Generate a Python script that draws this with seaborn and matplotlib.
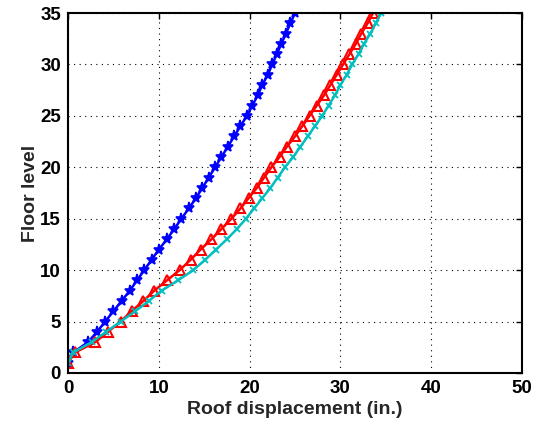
import matplotlib
matplotlib.use("Agg")
import matplotlib.pyplot as plt
import seaborn as sns
import pandas as pd

floors = list(range(1, 36))
disp_blue = [0.0, 0.6, 2.2, 3.2, 4.1, 5.0, 5.9, 6.8, 7.6, 8.4,
             9.2, 10.0, 10.9, 11.7, 12.5, 13.3, 14.1, 14.8, 15.5, 16.2,
             16.9, 17.6, 18.3, 19.0, 19.7, 20.3, 20.9, 21.4, 22.0, 22.5,
             23.0, 23.5, 24.0, 24.5, 25.0]
disp_red = [0.0, 0.8, 3.0, 4.4, 5.8, 7.0, 8.3, 9.5, 10.9, 12.3,
            13.5, 14.6, 15.8, 16.9, 18.0, 19.0, 19.9, 20.8, 21.6, 22.4,
            23.3, 24.1, 25.0, 25.8, 26.6, 27.4, 28.2, 28.9, 29.6, 30.3,
            31.0, 31.7, 32.3, 33.0, 33.6]
disp_cyan = [0.0, 0.6, 2.6, 4.2, 5.8, 7.4, 8.9, 10.3, 12.1, 13.8,
             15.1, 16.3, 17.5, 18.6, 19.6, 20.5, 21.4, 22.3, 23.1, 23.9,
             24.8, 25.6, 26.4, 27.2, 28.0, 28.7, 29.4, 30.0, 30.7, 31.3,
             32.0, 32.6, 33.3, 33.9, 34.5]
x_ticks = [0, 10, 20, 30, 40, 50]
y_ticks = [0, 5, 10, 15, 20, 25, 30, 35]

sns.set_style("white")
plt.rcParams['font.family'] = ['Liberation Sans', 'DejaVu Sans']
plt.rcParams['font.weight'] = 'bold'

fig = plt.figure(figsize=(5.37, 4.25), dpi=100)
ax = fig.add_axes([0.1266, 0.1224, 0.8454, 0.847])

df_b = pd.DataFrame({"disp": disp_blue, "floor": floors})
df_r = pd.DataFrame({"disp": disp_red, "floor": floors})
df_c = pd.DataFrame({"disp": disp_cyan, "floor": floors})

sns.lineplot(data=df_b, x="disp", y="floor", sort=False, estimator=None, ax=ax,
             color="#0000ff", marker="*", markersize=8, markeredgewidth=1.2,
             markeredgecolor="#0000ff", linewidth=1.8)
sns.lineplot(data=df_r, x="disp", y="floor", sort=False, estimator=None, ax=ax,
             color="#ff0000", marker="^", markersize=7, markerfacecolor="none",
             markeredgewidth=1.5, markeredgecolor="#ff0000", linewidth=1.8)
sns.lineplot(data=df_c, x="disp", y="floor", sort=False, estimator=None, ax=ax,
             color="#00bfbf", marker="x", markersize=5, markeredgewidth=1.3,
             markeredgecolor="#00bfbf", linewidth=1.8)

ax.set_xlim(0, 50)
ax.set_ylim(0, 35)
ax.set_xticks(x_ticks)
ax.set_yticks(y_ticks)
ax.set_xticklabels([str(t) for t in x_ticks], fontsize=13.5, fontweight='bold')
ax.set_yticklabels([str(t) for t in y_ticks], fontsize=13.5, fontweight='bold')
ax.set_xlabel("Roof displacement (in.)", fontsize=14, fontweight='bold', labelpad=3)
ax.set_ylabel("Floor level", fontsize=14, fontweight='bold', labelpad=1)
ax.grid(True, linestyle=(0, (1, 4)), color="black", linewidth=0.8)
ax.tick_params(direction="in", length=4, width=1, top=True, right=True,
               colors="black")
ax.tick_params(axis="x", pad=5)
ax.tick_params(axis="y", pad=5)
for s in ax.spines.values():
    s.set_color("black")
    s.set_linewidth(1.5)

fig.savefig("out.png", dpi=100)
